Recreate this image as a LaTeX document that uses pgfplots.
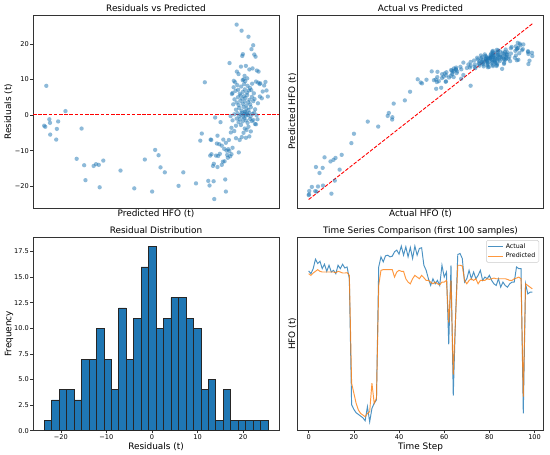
\documentclass[border=0pt]{standalone}
\usepackage{pgfplots}
\pgfplotsset{compat=1.18}
\usepackage{pgfplotstable}
\usepackage{fontspec}
\setmainfont{DejaVu Sans}
\definecolor{mblue}{HTML}{1F77B4}
\definecolor{morange}{HTML}{FF7F0E}
\newcommand\fT{\fontsize{8.9bp}{10.7bp}\selectfont}
\newcommand\fK{\fontsize{6.6bp}{7.9bp}\selectfont}
\pgfplotsset{
  every axis title/.style={at={(0.5,1)},anchor=base,yshift=3.5bp,inner sep=0pt,font=\fT},
  every axis x label/.style={at={(axis description cs:0.5,0)},anchor=base,inner sep=0pt,font=\fT},
  every axis y label/.style={at={(axis description cs:0,0.5)},rotate=90,anchor=base,inner sep=0pt,font=\fT},
  panel/.style={
    scale only axis, anchor=south west, width=246bp, height=193.3bp,
    axis line style={line width=0.6bp, black!80},
    tick style={line width=0.6bp, black!80},
    major tick length=2.5bp, tick align=outside, tick pos=left,
    tick label style={font=\fK, inner sep=1.5bp},
  },
  dots/.style={only marks, mark=*, color=mblue, mark size=2.15bp,
    mark options={draw=mblue, draw opacity=0, fill=mblue, fill opacity=0.5}},
}
\pgfplotstableread{
P R A
21.9 8.2 30.1
20.9 -3.0 17.9
21.4 -3.3 18.1
23.3 -1.2 22.1
23.6 -2.2 21.4
23.7 -5.5 18.2
26.5 -6.9 19.6
26.8 -3.9 22.9
27.4 -1.8 25.6
30.8 1.1 31.9
36.0 -12.3 23.7
38.3 -3.8 34.5
39.5 -14.1 25.4
40.1 -18.3 21.8
43.9 -14.3 29.6
45.0 -13.8 31.2
46.3 -14.0 32.3
46.7 -20.3 26.4
48.4 -12.8 35.6
56.4 -15.6 40.8
62.8 -20.6 42.2
67.7 -12.5 55.2
71.1 -21.5 49.6
72.5 -9.8 62.7
74.1 -11.3 62.8
75.0 -14.7 60.3
77.0 -16.1 60.9
83.4 -19.9 63.5
85.6 -16.1 69.5
91.5 -19.2 72.3
95.6 9.2 104.8
93.5 -7.2 86.3
94.2 -5.2 89.0
97.2 -18.5 78.7
97.8 -19.8 78.0
98.1 -11.4 86.7
98.3 -6.9 91.4
98.6 -7.0 91.6
98.7 -11.0 87.7
99.4 -14.3 85.1
99.8 -13.7 86.1
99.7 -18.6 81.1
100.0 -23.6 76.4
100.4 -0.7 99.7
100.8 -11.4 89.4
101.2 -8.0 93.2
101.5 -5.8 95.7
101.8 -11.5 90.3
102.3 -8.2 94.1
102.9 -2.0 100.9
103.5 -8.6 94.9
104.0 -13.1 90.9
104.2 -6.9 97.3
104.8 -13.0 91.8
105.1 -18.1 87.0
105.4 -21.5 83.9
105.7 -10.0 95.7
106.0 -11.2 94.8
106.5 -9.6 96.9
106.8 -7.0 99.8
107.0 -10.1 96.9
107.1 14.6 121.7
107.4 -11.6 95.8
107.6 -0.3 107.3
107.7 -4.9 102.8
108.0 -3.6 104.4
108.2 5.9 114.1
109.1 9.6 118.7
110.4 25.4 135.8
110.5 12.2 122.7
111.4 -10.5 100.9
111.8 -7.0 104.8
112.4 13.6 126.0
112.7 23.7 136.4
113.0 16.6 129.6
113.3 17.1 130.4
113.6 10.0 123.6
114.7 13.8 128.5
115.9 22.0 137.9
117.3 18.5 135.8
118.1 19.6 137.7
118.6 17.0 135.6
119.2 16.4 135.6
117.8 13.1 130.9
119.8 12.5 132.3
120.6 12.2 132.8
119.4 9.4 128.8
120.4 9.1 129.5
121.1 8.7 129.8
121.4 8.9 130.3
123.8 9.3 133.1
124.3 6.9 131.2
124.9 5.2 130.1
121.2 5.2 126.4
115.0 -4.2 110.8
114.2 -3.8 110.4
114.7 -6.4 108.3
118.1 -1.4 116.7
118.9 -2.5 116.4
101.5 -14.6 86.9
103.5 -14.0 89.5
102.6 -10.9 91.7
106.3 -12.0 94.3
108.0 -11.0 97.0
104.6 -9.5 95.1
108.5 -9.2 99.3
105.4 -7.8 97.6
110.1 -6.5 103.6
112.8 -6.2 106.6
116.3 -6.0 110.3
109.3 -4.5 104.8
113.6 -5.0 108.6
117.0 -4.6 112.4
110.1 -3.0 107.1
112.4 -2.8 109.6
115.9 -3.3 112.6
119.4 -2.6 116.8
108.5 -1.5 107.0
110.4 -1.0 109.4
111.3 -2.0 109.3
111.9 -1.2 110.7
113.2 -1.8 111.4
113.9 -0.9 113.0
114.7 -1.5 113.2
115.5 -2.2 113.3
116.6 -1.1 115.5
117.5 -1.7 115.8
120.1 -1.2 118.9
109.3 0.2 109.5
110.8 0.5 111.3
111.6 -0.3 111.3
112.4 0.1 112.5
112.8 0.6 113.4
113.5 -0.5 113.0
113.9 0.3 114.2
114.4 0.8 115.2
114.7 -0.2 114.5
115.2 0.4 115.6
115.6 0.0 115.6
116.3 0.6 116.9
116.9 -0.4 116.5
117.8 0.3 118.1
118.6 0.7 119.3
119.7 -0.1 119.6
110.1 1.5 111.6
111.6 2.0 113.6
112.7 1.2 113.9
113.6 2.3 115.9
114.2 1.0 115.2
115.0 1.8 116.8
115.9 1.4 117.3
117.0 2.2 119.2
119.0 1.6 120.6
108.8 3.0 111.8
110.4 3.5 113.9
111.3 2.8 114.1
112.1 4.0 116.1
113.2 3.2 116.4
114.1 3.8 117.9
114.9 2.7 117.6
115.8 3.6 119.4
116.7 3.0 119.7
118.1 3.9 122.0
120.3 3.3 123.6
109.4 4.4 113.8
111.0 5.0 116.0
112.2 5.5 117.7
113.0 4.6 117.6
113.8 5.3 119.1
114.5 4.8 119.3
115.3 5.6 120.9
116.4 4.3 120.7
117.5 5.1 122.6
118.7 4.5 123.2
122.1 4.7 126.8
108.5 6.2 114.7
109.9 6.8 116.7
111.1 7.1 118.2
111.9 6.0 117.9
113.3 6.5 119.8
114.2 7.2 121.4
115.2 6.3 121.5
116.1 6.9 123.0
117.2 7.0 124.2
118.4 6.1 124.5
122.5 6.6 129.1
109.0 7.8 116.8
110.7 8.4 119.1
112.5 8.0 120.5
113.9 8.7 122.6
115.5 8.2 123.7
116.6 7.6 124.2
117.6 8.8 126.4
123.2 8.3 131.5
109.7 9.2 118.9
113.2 9.8 123.0
115.3 10.3 125.6
114.4 9.5 123.9
111.3 11.5 122.8
114.1 11.0 125.1
116.3 12.8 129.1
}\scat
\pgfplotstableread{
t act pred
0 115.75 113.75
1 113.75 112.5
2 117.5 114.25
3 124.5 115.5
4 121.25 116.75
5 123 115.5
6 117.5 115
7 120.75 115
8 115.5 115
9 120 115
10 115 115
11 116.25 115
12 113.75 114.5
13 120 115.5
14 117.5 115
15 120.75 114.25
16 118 114.25
17 118.75 114.5
18 110 112.5
19 16.5 32.5
20 13 25
21 10.5 17.5
22 9.25 12.5
23 8 10
24 6.75 8.75
25 4.5 7.5
26 15 10
27 3.75 11.25
28 13.75 32.5
29 17.5 17.5
30 20 21.25
31 118.75 105
32 126.25 116.25
33 122.5 116.75
34 127 116.75
35 127.5 116.75
36 126.25 116.75
37 126.75 116.75
38 130 111.25
39 131.25 115
40 128.25 116.25
41 134.25 115.5
42 127.5 115.5
43 133.75 110
44 126.25 107.5
45 133.25 106.25
46 125 110
47 134.25 112.5
48 127.5 111.25
49 132.5 110
50 133 112.5
51 120 110.75
52 116.25 108.75
53 110 108.75
54 105 107.5
55 110 106.25
56 106.25 107.5
57 108.75 106.25
58 105 105.5
59 120 107.5
60 111.25 107.5
61 115 108.75
62 61.25 77.5
63 120 108.75
64 23.25 38.75
65 80 80
66 128 120
67 128.75 120
68 125 119.5
69 107.5 108.75
70 110 106.25
71 116.25 108.75
72 110 110
73 115 108.75
74 110 110
75 112.5 106.25
76 116.25 108.75
77 108.75 108.75
78 111.25 108.75
79 110 110
80 112.5 109.5
81 108.75 110
82 106.25 110.5
83 105 110
84 110 110
85 103.75 110
86 107.5 110
87 105 110
88 103.75 109.5
89 106.25 108.75
90 107.5 108.75
91 107.5 110
92 118.75 110.5
93 117.5 111.25
94 117.5 110
95 10 22.5
96 106.25 106.25
97 98.75 105
98 100 103.75
99 100 102.5
}\ts
\begin{document}
\begin{tikzpicture}
\path[use as bounding box, fill=white] (0,0) rectangle (550bp,455bp);
% top left
\begin{axis}[panel, at={(33bp,246.7bp)},
  xmin=15.7, xmax=130.1, ymin=-26.2, ymax=28.1,
  xtick=\empty, ytick={-20,-10,0,10,20}, yticklabels={−20,−10,0,10,20},
  title={Residuals vs Predicted}, xlabel={Predicted HFO (t)}, ylabel={Residuals (t)},
  xlabel style={at={([yshift=-8.2bp]axis description cs:0.5,0)}},
  ylabel style={at={([xshift=-21.8bp]axis description cs:0,0.5)}}]
\addplot[dots] table[x=P,y=R]{\scat};
\addplot[red, line width=1bp, dash pattern=on 3.6bp off 1.6bp] coordinates {(15.7,0.05) (130.1,0.05)};
\end{axis}
% top right
\begin{axis}[panel, at={(297.5bp,246.7bp)},
  xmin=11.9, xmax=143.9, ymin=11.9, ymax=143.9,
  xtick=\empty, ytick=\empty,
  title={Actual vs Predicted}, xlabel={Actual HFO (t)}, ylabel={Predicted HFO (t)},
  xlabel style={at={([yshift=-8.2bp]axis description cs:0.5,0)}},
  ylabel style={at={([xshift=-2.5bp]axis description cs:0,0.5)}}]
\addplot[dots] table[x=A,y=P]{\scat};
\addplot[red, line width=0.9bp, dash pattern=on 3.6bp off 1.6bp] coordinates {(17.9,17.9) (137.9,137.9)};
\end{axis}
% bottom left
\begin{axis}[panel, at={(33bp,24.4bp)},
  xmin=-26.11, xmax=27.87, ymin=0, ymax=18.9,
  xtick={-20,-10,0,10,20}, xticklabels={−20,−10,0,10,20},
  ytick={0,2.5,5,7.5,10,12.5,15,17.5}, yticklabels={0.0,2.5,5.0,7.5,10.0,12.5,15.0,17.5},
  title={Residual Distribution}, xlabel={Residuals (t)}, ylabel={Frequency},
  xlabel style={at={([yshift=-19bp]axis description cs:0.5,0)}},
  ylabel style={at={([xshift=-21.6bp]axis description cs:0,0.5)}}]
\addplot[ybar interval, fill=mblue, draw=black!85, line width=0.5bp] coordinates {
(-23.66,1) (-22.02,3) (-20.39,4) (-18.75,4) (-17.12,3) (-15.48,7) (-13.84,7) (-12.21,10)
(-10.57,7) (-8.94,4) (-7.30,12) (-5.66,7) (-4.03,11) (-2.39,16) (-0.76,18) (0.88,10)
(2.52,11) (4.15,13) (5.79,13) (7.42,11) (9.06,10) (10.70,4) (12.33,5) (13.97,1)
(15.60,4) (17.24,1) (18.88,1) (20.51,1) (22.15,1) (23.78,1) (25.42,0)};
\end{axis}
% bottom right
\begin{axis}[panel, at={(297.5bp,24.4bp)},
  xmin=-4.95, xmax=103.95, ymin=-2.775, ymax=140.775,
  xtick={0,20,40,60,80,100}, xticklabels={0,20,40,60,80,100}, ytick=\empty,
  title={Time Series Comparison (first 100 samples)}, xlabel={Time Step}, ylabel={HFO (t)},
  xlabel style={at={([yshift=-19bp]axis description cs:0.5,0)}},
  ylabel style={at={([xshift=-2.5bp]axis description cs:0,0.5)}},
  legend style={at={(0.982,0.986)}, anchor=north east, draw=black!20, line width=0.5bp,
    rounded corners=1.5bp, fill=white, fill opacity=0.8, text opacity=1,
    font=\fontsize{6.3bp}{7.5bp}\selectfont, inner xsep=1.5bp, inner ysep=1bp, row sep=-0.5bp},
  legend cell align=left,
  legend image code/.code={\draw[#1, line width=0.9bp] (0bp,0bp) -- (15bp,0bp);}]
\addplot[mblue, line width=0.95bp, opacity=0.8] table[x=t,y=act]{\ts};
\addlegendentry{Actual}
\addplot[morange, line width=0.95bp, opacity=0.8] table[x=t,y=pred]{\ts};
\addlegendentry{Predicted}
\end{axis}
\end{tikzpicture}
\end{document}
